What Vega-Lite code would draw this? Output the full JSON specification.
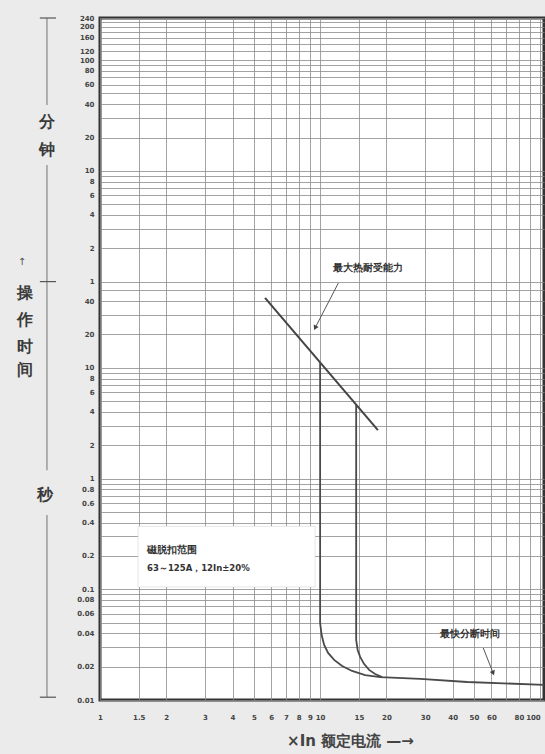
{
  "$schema": "https://vega.github.io/schema/vega-lite/v6.json",
  "width": 444,
  "height": 682,
  "autosize": {"type": "none"},
  "padding": {"left": 100, "top": 18, "right": 1, "bottom": 54},
  "background": "#ebebeb",
  "config": {
    "view": {"fill": "white", "stroke": "#333333", "strokeWidth": 3},
    "font": "DejaVu Sans"
  },
  "datasets": {
    "box": [{"x": 1.49, "x2": 9.49, "y": 0.105, "y2": 0.37}],
    "thermal": [{"x": 5.62, "y": 42.7}, {"x": 18.3, "y": 2.74}],
    "curves": [
      {"s": 1, "i": 0, "x": 10, "y": 11.2},
      {"s": 1, "i": 1, "x": 10, "y": 0.0495},
      {"s": 1, "i": 2, "x": 10.16, "y": 0.0386},
      {"s": 1, "i": 3, "x": 10.43, "y": 0.0314},
      {"s": 1, "i": 4, "x": 10.87, "y": 0.0266},
      {"s": 1, "i": 5, "x": 11.58, "y": 0.023},
      {"s": 1, "i": 6, "x": 12.59, "y": 0.0203},
      {"s": 1, "i": 7, "x": 13.97, "y": 0.0183},
      {"s": 1, "i": 8, "x": 16.02, "y": 0.0168},
      {"s": 1, "i": 9, "x": 18.74, "y": 0.0161},
      {"s": 1, "i": 10, "x": 28.5, "y": 0.0155},
      {"s": 1, "i": 11, "x": 46.6, "y": 0.01454},
      {"s": 1, "i": 12, "x": 104, "y": 0.0137},
      {"s": 2, "i": 0, "x": 14.58, "y": 4.65},
      {"s": 2, "i": 1, "x": 14.58, "y": 0.0348},
      {"s": 2, "i": 2, "x": 14.81, "y": 0.0283},
      {"s": 2, "i": 3, "x": 15.2, "y": 0.0245},
      {"s": 2, "i": 4, "x": 15.85, "y": 0.0211},
      {"s": 2, "i": 5, "x": 16.7, "y": 0.0187},
      {"s": 2, "i": 6, "x": 17.78, "y": 0.01717},
      {"s": 2, "i": 7, "x": 19.13, "y": 0.0161}
    ],
    "arrows": [
      {"a": 1, "i": 0, "x": 12.1, "y": 58.2},
      {"a": 1, "i": 1, "x": 9.49, "y": 22.9},
      {"a": 2, "i": 0, "x": 55.1, "y": 0.0295},
      {"a": 2, "i": 1, "x": 61.1, "y": 0.0175}
    ],
    "head1": [{"x": 9.49, "y": 22.9}],
    "head2": [{"x": 61.1, "y": 0.0175}],
    "notes": [
      {"x": 11.5, "y": 79.4, "text": "最大热耐受能力"},
      {"x": 35.1, "y": 0.0394, "text": "最快分断时间"},
      {"x": 1.636, "y": 0.226, "text": "磁脱扣范围"}
    ],
    "note2": [{"x": 1.636, "y": 0.155, "text": "63～125A，12In±20%"}],
    "side": [
      {"x": 0.574, "y": 1656, "text": "分"},
      {"x": 0.574, "y": 925, "text": "钟"},
      {"x": 0.456, "y": 47.3, "text": "操"},
      {"x": 0.456, "y": 27, "text": "作"},
      {"x": 0.456, "y": 15.4, "text": "时"},
      {"x": 0.456, "y": 9.55, "text": "间"},
      {"x": 0.562, "y": 0.71, "text": "秒"}
    ],
    "arrowup": [{"x": 0.442, "y": 90, "text": "↑"}],
    "vrules": [
      {"x": 0.574, "y": 14400, "y2": 2355},
      {"x": 0.574, "y": 678, "y2": 60},
      {"x": 0.574, "y": 60, "y2": 1.19},
      {"x": 0.574, "y": 0.468, "y2": 0.0106}
    ],
    "hrules": [
      {"x": 0.533, "x2": 0.631, "y": 14400},
      {"x": 0.533, "x2": 0.631, "y": 60},
      {"x": 0.533, "x2": 0.631, "y": 0.0106}
    ]
  },
  "encoding": {
    "x": {
      "field": "x",
      "type": "quantitative",
      "scale": {"type": "log", "domain": [1, 104]},
      "axis": {
        "values": [1, 1.5, 2, 3, 4, 5, 6, 7, 8, 9, 10, 15, 20, 30, 40, 50, 60, 70, 80, 90, 100],
        "labelExpr": "indexof([70, 90], datum.value) >= 0 ? '' : format(datum.value, '')",
        "labelAlign": {"condition": {"test": "datum.value === 100", "value": "right"}, "value": "center"},
        "grid": true,
        "gridColor": "#8c8c8c",
        "gridWidth": 0.8,
        "ticks": false,
        "domain": false,
        "labelOverlap": false,
        "labelFlush": false,
        "labelFontSize": 7,
        "labelFontWeight": "bold",
        "labelColor": "#444444",
        "labelPadding": 13,
        "title": "×In  额定电流 —→",
        "titleFontSize": 15,
        "titleFontWeight": "bold",
        "titleColor": "#444444",
        "titleX": 250,
        "titleY": 40,
        "titleAlign": "center",
        "titleBaseline": "middle"
      }
    },
    "y": {
      "field": "y",
      "type": "quantitative",
      "scale": {"type": "log", "domain": [0.01, 14400]},
      "axis": {
        "values": [0.01, 0.02, 0.03, 0.04, 0.05, 0.06, 0.07, 0.08, 0.09, 0.1, 0.2, 0.3, 0.4, 0.5, 0.6, 0.7, 0.8, 0.9, 1, 2, 3, 4, 5, 6, 7, 8, 9, 10, 20, 30, 40, 50, 60, 120, 180, 240, 300, 360, 420, 480, 540, 600, 1200, 1800, 2400, 3000, 3600, 4200, 4800, 5400, 6000, 7200, 8400, 9600, 10800, 12000, 13200, 14400],
        "labelExpr": "indexof([0.01, 0.02, 0.04, 0.06, 0.08, 0.1, 0.2, 0.4, 0.6, 0.8, 1, 2, 4, 6, 8, 10, 20, 40, 60, 120, 240, 360, 480, 600, 1200, 2400, 3600, 4800, 6000, 7200, 9600, 12000, 14400], datum.value) >= 0 ? (datum.value >= 60 ? format(datum.value / 60, '') : format(datum.value, '')) : ''",
        "grid": true,
        "gridColor": "#8c8c8c",
        "gridWidth": 0.8,
        "ticks": false,
        "domain": false,
        "labelOverlap": false,
        "labelFlush": false,
        "labelFontSize": 7,
        "labelFontWeight": "bold",
        "labelColor": "#444444",
        "labelPadding": 6,
        "title": null
      }
    }
  },
  "layer": [
    {
      "data": {"name": "box"},
      "mark": {"type": "rect", "fill": "white", "stroke": "#cccccc", "strokeWidth": 0.5},
      "encoding": {"x2": {"field": "x2"}, "y2": {"field": "y2"}}
    },
    {
      "data": {"name": "thermal"},
      "mark": {"type": "line", "color": "#444444", "strokeWidth": 2},
      "encoding": {}
    },
    {
      "data": {"name": "curves"},
      "mark": {"type": "line", "color": "#4a4a4a", "strokeWidth": 1.8},
      "encoding": {"detail": {"field": "s"}, "order": {"field": "i"}}
    },
    {
      "data": {"name": "arrows"},
      "mark": {"type": "line", "color": "#555555", "strokeWidth": 1},
      "encoding": {"detail": {"field": "a"}, "order": {"field": "i"}}
    },
    {
      "data": {"name": "head1"},
      "mark": {"type": "point", "shape": "triangle-down", "filled": true, "size": 30, "angle": 27, "color": "#444444", "opacity": 1}
    },
    {
      "data": {"name": "head2"},
      "mark": {"type": "point", "shape": "triangle-down", "filled": true, "size": 30, "angle": 338, "color": "#444444", "opacity": 1}
    },
    {
      "data": {"name": "vrules"},
      "mark": {"type": "rule", "color": "#9a9a9a", "strokeWidth": 1.5},
      "encoding": {"y2": {"field": "y2"}}
    },
    {
      "data": {"name": "hrules"},
      "mark": {"type": "rule", "color": "#555555", "strokeWidth": 1.2},
      "encoding": {"x2": {"field": "x2"}}
    },
    {
      "data": {"name": "notes"},
      "mark": {"type": "text", "align": "left", "baseline": "middle", "fontSize": 10, "fontWeight": "bold", "color": "#333333"},
      "encoding": {"text": {"field": "text"}}
    },
    {
      "data": {"name": "note2"},
      "mark": {"type": "text", "align": "left", "baseline": "middle", "fontSize": 8.5, "fontWeight": "bold", "color": "#333333"},
      "encoding": {"text": {"field": "text"}}
    },
    {
      "data": {"name": "side"},
      "mark": {"type": "text", "align": "center", "baseline": "middle", "fontSize": 16, "fontWeight": "bold", "color": "#3a3a3a"},
      "encoding": {"text": {"field": "text"}}
    },
    {
      "data": {"name": "arrowup"},
      "mark": {"type": "text", "align": "center", "baseline": "middle", "fontSize": 10, "color": "#555555"},
      "encoding": {"text": {"field": "text"}}
    }
  ]
}
